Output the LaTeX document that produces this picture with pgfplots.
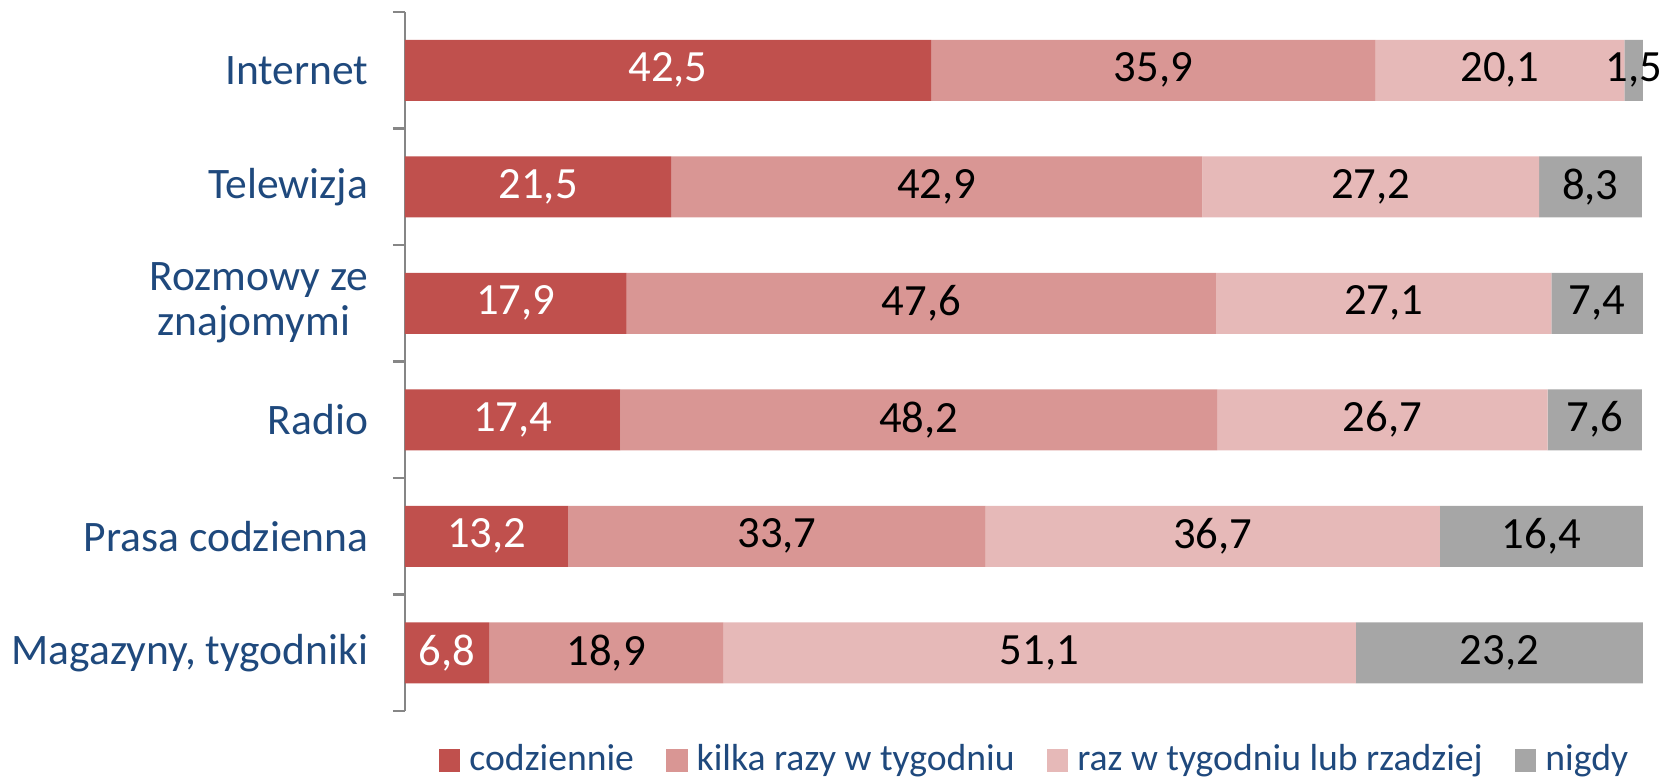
\documentclass[border=0pt]{standalone}
\usepackage{fontspec}
\setmainfont{Carlito}
\usepackage{pgfplots}
\pgfplotsset{compat=1.18}
\definecolor{c1}{HTML}{C0504D}
\definecolor{c2}{HTML}{D99694}
\definecolor{c3}{HTML}{E6B9B8}
\definecolor{c4}{HTML}{A6A6A6}
\definecolor{lab}{HTML}{1F497D}
\definecolor{axgray}{HTML}{868686}
\begin{document}
\begin{tikzpicture}
\begin{axis}[
  at={(0pt,0pt)}, anchor=south west,
  scale only axis, width=371.4pt, height=209.7pt,
  xbar stacked, bar width=18.3pt,
  xmin=0, xmax=100, ymin=-0.5, ymax=5.5,
  clip=false,
  axis x line=none, axis y line=left,
  y axis line style={-, draw=axgray, line width=0.8pt},
  ytick={0,...,5},
  yticklabels={{Magazyny, tygodniki}, {Prasa codzienna}, {Radio}, {Rozmowy ze\\znajomymi\hphantom{i}}, {Telewizja}, {Internet}},
  yticklabel style={font=\fontsize{13.05}{13.5}\selectfont, text=lab, align=center, xshift=-7.5pt},
  major tick length=0pt,
  minor ytick={-0.5,0.5,...,5.5},
  minor tick length=3.6pt,
  tick align=outside,
  minor tick style={draw=axgray, line width=0.8pt},
  /pgf/number format/.cd, use comma, fixed, fixed zerofill, precision=1, assume math mode=true,
  /pgfplots/.cd,
  nodes near coords,
  nodes near coords style={font=\fontsize{13.4}{16}\selectfont, anchor=center},
  legend style={at={(0.509,0)}, yshift=-14.8pt, anchor=center, draw=none,
     legend columns=-1, font=\fontsize{11.3}{14}\selectfont, text=lab,
     nodes={inner xsep=1pt},
     /tikz/every odd column/.append style={column sep=1.7pt},
     /tikz/every even column/.append style={column sep=8.6pt}},
  legend image code/.code={\fill[#1] (0pt,-3.4pt) rectangle (6.5pt,3.4pt);},
]
\addplot[fill=c1, draw=none, nodes near coords style={text=white}] coordinates {(6.8,0) (13.2,1) (17.4,2) (17.9,3) (21.5,4) (42.5,5)};
\addplot[fill=c2, draw=none, nodes near coords style={text=black}] coordinates {(18.9,0) (33.7,1) (48.2,2) (47.6,3) (42.9,4) (35.9,5)};
\addplot[fill=c3, draw=none, nodes near coords style={text=black}] coordinates {(51.1,0) (36.7,1) (26.7,2) (27.1,3) (27.2,4) (20.1,5)};
\addplot[fill=c4, draw=none, nodes near coords style={text=black}] coordinates {(23.2,0) (16.4,1) (7.6,2) (7.4,3) (8.3,4) (1.5,5)};
\legend{codziennie, kilka razy w tygodniu, raz w tygodniu lub rzadziej, nigdy}
\end{axis}
\pgfresetboundingbox
\path (-121.5pt,-19.8pt) rectangle (377.4pt,213.3pt);
\end{tikzpicture}
\end{document}
